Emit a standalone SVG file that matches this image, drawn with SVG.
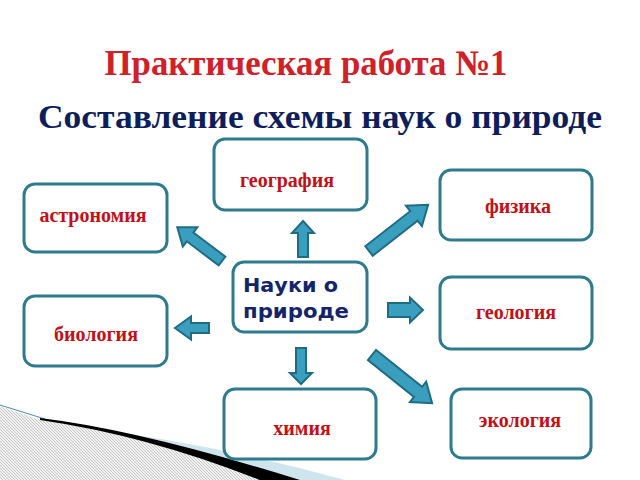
<svg xmlns="http://www.w3.org/2000/svg" width="640" height="480" viewBox="0 0 640 480">
  <defs>
    <pattern id="hatch" patternUnits="userSpaceOnUse" width="3" height="3">
      <rect width="3" height="3" fill="#f2f2f2"/>
      <path d="M0,0 L3,3 M-1,2 L1,4 M2,-1 L4,1" stroke="#a6a6a6" stroke-width="0.6"/>
    </pattern>
    <style>
      .box { fill: #ffffff; stroke: #2e7b8d; stroke-width: 3; }
      .lbl { font-family: "Liberation Serif", "Times New Roman", serif; font-weight: bold; font-size: 20px; fill: #c30f16; text-anchor: middle; }
      .arrow { fill: #3a9fbe; stroke: #1f6c82; stroke-width: 2; stroke-linejoin: miter; }
      .center { font-family: "DejaVu Sans", Verdana, sans-serif; font-weight: bold; font-size: 20px; fill: #13246a; }
      .title { font-family: "Liberation Serif", "Times New Roman", serif; font-weight: bold; }
    </style>
  </defs>

  <rect width="640" height="480" fill="#ffffff"/>

  <!-- bottom-left decoration -->
  <g id="decoration">
    <path d="M70,427 Q200,440 345,480 L250,482 Z" fill="#cfe5ee"/>
    <path d="M0,406 L40,420 Q150,436 262,481 L0,481 Z" fill="url(#hatch)"/>
    <path d="M0,405 L45,419" stroke="#4a8fa0" stroke-width="1" fill="none"/>
    <path d="M40,418 Q140,430 300,480 L300,490 L262,481 Q150,436 40,420 Z" fill="#000000"/>
  </g>

  <!-- titles -->
  <text class="title" x="306" y="75" text-anchor="middle" style="font-family: 'Liberation Serif', 'Times New Roman', serif; font-size: 36px; font-weight: bold;" fill="#d0202a" textLength="403" lengthAdjust="spacingAndGlyphs">Практическая работа №1</text>
  <text class="title" x="38" y="128" style="font-family: 'Liberation Serif', 'Times New Roman', serif; font-size: 33px; font-weight: bold;" fill="#0e1e5b" textLength="564" lengthAdjust="spacingAndGlyphs">Составление схемы наук о природе</text>

  <!-- connectors -->
  <g id="connectors">
    <polygon class="arrow" transform="translate(303,257) rotate(-90)" points="0,-5 24,-5 24,-11 36,0 24,11 24,5 0,5"/>
    <polygon class="arrow" transform="translate(222,261) rotate(-143)" points="0,-5.5 40,-5.5 40,-12 56,0 40,12 40,5.5 0,5.5"/>
    <polygon class="arrow" transform="translate(209,328) rotate(180)" points="0,-5 18,-5 18,-11.5 34,0 18,11.5 18,5 0,5"/>
    <polygon class="arrow" transform="translate(369,251) rotate(-38)" points="0,-6 57,-6 57,-13 75,0 57,13 57,6 0,6"/>
    <polygon class="arrow" transform="translate(388,310) rotate(0)" points="0,-7 22,-7 22,-12.5 35,0 22,12.5 22,7 0,7"/>
    <polygon class="arrow" transform="translate(301,348) rotate(90)" points="0,-5 25,-5 25,-11 36,0 25,11 25,5 0,5"/>
    <polygon class="arrow" transform="translate(372,355) rotate(38.7)" points="0,-6.5 59,-6.5 59,-13 77,0 59,13 59,6.5 0,6.5"/>
  </g>

  <!-- nodes -->
  <g id="node-geografiya">
    <rect class="box" x="214" y="139" width="153" height="71" rx="11"/>
    <text class="lbl" x="287" y="187">география</text>
  </g>
  <g id="node-fizika">
    <rect class="box" x="440" y="170" width="152" height="70" rx="11"/>
    <text class="lbl" x="518" y="213">физика</text>
  </g>
  <g id="node-astronomiya">
    <rect class="box" x="24" y="184" width="143" height="68" rx="11"/>
    <text class="lbl" x="93" y="222">астрономия</text>
  </g>
  <g id="node-nauki">
    <rect class="box" x="233" y="262" width="134" height="70" rx="11"/>
    <text class="center" x="243" y="292" textLength="95" lengthAdjust="spacingAndGlyphs">Науки о</text>
    <text class="center" x="243" y="318" textLength="106" lengthAdjust="spacingAndGlyphs">природе</text>
  </g>
  <g id="node-geologiya">
    <rect class="box" x="440" y="277" width="152" height="72" rx="11"/>
    <text class="lbl" x="516" y="319">геология</text>
  </g>
  <g id="node-biologiya">
    <rect class="box" x="24" y="296" width="143" height="70" rx="11"/>
    <text class="lbl" x="96" y="341">биология</text>
  </g>
  <g id="node-khimiya">
    <rect class="box" x="224" y="389" width="152" height="70" rx="11"/>
    <text class="lbl" x="302" y="435">химия</text>
  </g>
  <g id="node-ekologiya">
    <rect class="box" x="451" y="389" width="140" height="69" rx="11"/>
    <text class="lbl" x="520" y="427">экология</text>
  </g>
</svg>
